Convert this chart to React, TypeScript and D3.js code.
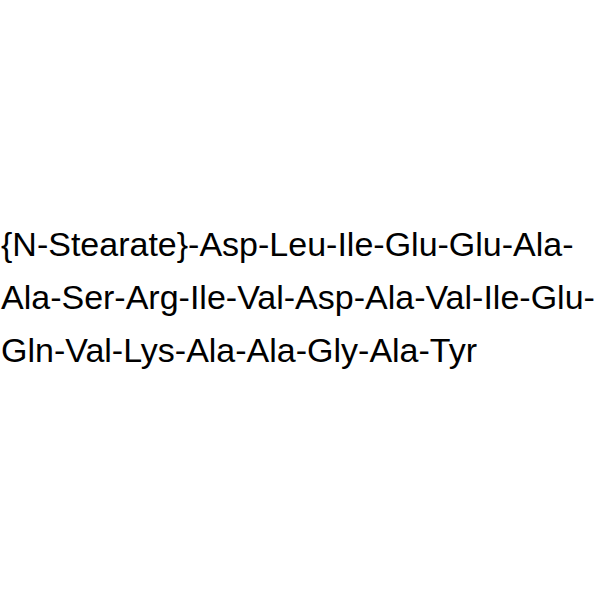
import React from "react";
import * as d3 from "d3";

const lines: string[] = [
  "{N-Stearate}-Asp-Leu-Ile-Glu-Glu-Ala-",
  "Ala-Ser-Arg-Ile-Val-Asp-Ala-Val-Ile-Glu-",
  "Gln-Val-Lys-Ala-Ala-Gly-Ala-Tyr",
];

export default function App() {
  const y = d3.scaleLinear().domain([0, 2]).range([256, 362]);
  return (
    <svg
      width={600}
      height={600}
      style={{ position: "absolute", left: 0, top: 0, background: "#fff" }}
    >
      {lines.map((t, i) => (
        <text
          key={i}
          x={1}
          y={y(i)}
          fontFamily="'Liberation Sans', Arial, sans-serif"
          fontSize={34}
          fill="#000"
        >
          {t}
        </text>
      ))}
    </svg>
  );
}
